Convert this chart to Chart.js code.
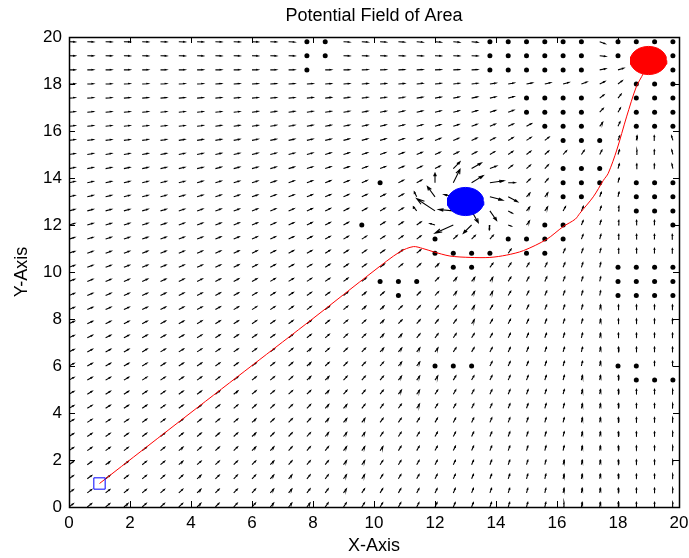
<!DOCTYPE html>
<html>
<head>
<meta charset="utf-8">
<script src="https://cdn.jsdelivr.net/npm/chart.js@4.4.1/dist/chart.umd.min.js"></script>
<style>
  html, body { margin: 0; padding: 0; background: #fff; }
  #wrap { width: 689px; height: 558px; }
</style>
</head>
<body>
<div id="wrap"><canvas id="fieldChart"></canvas></div>
<script>
// quiver grid (step 0.6 in both directions)
var gridX = [0, 0.6, 1.2, 1.8, 2.4, 3, 3.6, 4.2, 4.8, 5.4, 6, 6.6, 7.2, 7.8, 8.4, 9, 9.6,
             10.2, 10.8, 11.4, 12, 12.6, 13.2, 13.8, 14.4, 15, 15.6, 16.2, 16.8, 17.4, 18, 18.6, 19.2, 19.8];
var gridY = gridX.slice();
var axisTicks = [0, 2, 4, 6, 8, 10, 12, 14, 16, 18, 20];
var chartTitle = 'Potential Field of Area';

var goal = [19, 19];        // red blob, arrows point at it
var obstacle = [13, 13];    // blue blob
var blobRadius = 0.6;
var startPoint = [1, 1];
var arrowLen = 0.2;

// robot path (red line)
var pathX = [1, 4, 6, 8, 10, 10.85, 11.29, 11.6, 11.95, 12.49, 13.15, 13.8, 14.35, 14.9, 15.66, 16.2,
             16.6, 16.75, 17.19, 17.52, 17.68, 17.96, 18.28, 18.6, 18.83, 19];
var pathY = [1, 4.02, 6.02, 8.02, 10.05, 10.86, 11.08, 11.0, 10.86, 10.68, 10.62, 10.62, 10.72, 10.91, 11.39, 11.93,
             12.25, 12.5, 13.2, 13.9, 14.2, 15.19, 16.6, 17.88, 18.45, 19];

// grid points that show as a dot
var dotX = [7.8, 8.4, 13.8, 14.4, 15, 15.6, 16.2, 16.8, 18, 18.6, 19.2, 19.8,
            7.8, 8.4, 13.8, 14.4, 15, 15.6, 16.2, 16.8, 18, 19.8,
            7.8, 13.8, 14.4, 15, 15.6, 16.2, 16.8, 19.8,
            18.6, 19.2, 19.8,
            15, 15.6, 16.2, 16.8, 18.6, 19.2, 19.8,
            15, 15.6, 16.2, 16.8, 18.6, 19.2, 19.8,
            15.6, 16.2, 16.8, 18.6, 19.2, 19.8,
            16.2, 16.8, 17.4,
            16.2, 16.8, 17.4,
            10.2, 16.2, 16.8, 17.4, 18.6, 19.2, 19.8,
            16.2, 16.8, 18.6, 19.2, 19.8,
            18.6, 19.2, 19.8,
            9.6, 15.6, 16.2, 19.8,
            12, 14.4, 15, 15.6, 16.2,
            12, 12.6, 13.2, 13.8, 15, 15.6,
            12.6, 13.2, 18, 18.6, 19.2, 19.8,
            10.2, 10.8, 11.4, 18, 18.6, 19.2, 19.8,
            10.8, 18, 18.6, 19.2, 19.8,
            12, 12.6, 13.2, 18, 18.6,
            18.6, 19.2, 19.8];
var dotY = [19.8, 19.8, 19.8, 19.8, 19.8, 19.8, 19.8, 19.8, 19.8, 19.8, 19.8, 19.8,
            19.2, 19.2, 19.2, 19.2, 19.2, 19.2, 19.2, 19.2, 19.2, 19.2,
            18.6, 18.6, 18.6, 18.6, 18.6, 18.6, 18.6, 18.6,
            18, 18, 18,
            17.4, 17.4, 17.4, 17.4, 17.4, 17.4, 17.4,
            16.8, 16.8, 16.8, 16.8, 16.8, 16.8, 16.8,
            16.2, 16.2, 16.2, 16.2, 16.2, 16.2,
            15.6, 15.6, 15.6,
            14.4, 14.4, 14.4,
            13.8, 13.8, 13.8, 13.8, 13.8, 13.8, 13.8,
            13.2, 13.2, 13.2, 13.2, 13.2,
            12.6, 12.6, 12.6,
            12, 12, 12, 12,
            11.4, 11.4, 11.4, 11.4, 11.4,
            10.8, 10.8, 10.8, 10.8, 10.8, 10.8,
            10.2, 10.2, 10.2, 10.2, 10.2, 10.2,
            9.6, 9.6, 9.6, 9.6, 9.6, 9.6, 9.6,
            9, 9, 9, 9, 9,
            6, 6, 6, 6, 6,
            5.4, 5.4, 5.4];

// long arrows around the obstacle (start x, y and vector u, v)
var nearX = [12.6, 12.6, 13.2, 13.2, 13.8, 13.8, 13.8, 14.4, 14.4, 13.8, 13.2, 13.2, 12.6, 12.6, 12.0, 12.0, 12.0, 12.6, 13.8, 14.4, 11.4, 11.4, 12.0, 14.4, 13.2];
var nearY = [13.8, 14.4, 13.8, 14.4, 13.8, 14.4, 13.2, 13.2, 13.8, 12.6, 12.6, 12.0, 12.0, 12.6, 12.6, 13.2, 13.8, 13.2, 12.0, 12.6, 13.2, 12.6, 12.0, 12.0, 13.2];
var nearU = [0.22, 0.22, 0.38, 0.32, 0.46, 0.22, 0.42, 0.31, 0.22, 0.22, 0.22, -0.27, -0.60, -0.48, -0.60, -0.25, 0.0, -0.3, -0.02, 0.14, -0.08, -0.11, -0.16, 0.10, 0.2];
var nearV = [0.57, 0.29, 0.30, 0.24, 0.085, 0.11, -0.14, -0.21, 0.0, -0.41, -0.50, -0.35, -0.35, 0.06, 0.52, 0.44, 0.41, 0.1, -0.21, -0.10, 0.21, 0.18, 0.06, -0.05, 0.1];

function key(x, y) { return x.toFixed(1) + ',' + y.toFixed(1); }

var dotSet = {};
dotX.forEach(function (x, i) { dotSet[key(x, dotY[i])] = true; });
var nearSet = {};
nearX.forEach(function (x, i) { nearSet[key(x, nearY[i])] = i; });

// build the quiver as one broken line (null breaks the strokes)
var quiver = [];
function addArrow(x, y, u, v) {
  var tx = x + u, ty = y + v;
  var a = 0.33, b = 0.33;
  quiver.push({ x: x, y: y }, { x: tx, y: ty }, { x: null, y: null });
  quiver.push({ x: tx - a * (u + b * v), y: ty - a * (v - b * u) },
              { x: tx, y: ty },
              { x: tx - a * (u - b * v), y: ty - a * (v + b * u) },
              { x: null, y: null });
}

gridX.forEach(function (x) {
  gridY.forEach(function (y) {
    var k = key(x, y);
    if (dotSet[k]) return;
    if (nearSet[k] !== undefined) {
      var n = nearSet[k];
      addArrow(x, y, nearU[n], nearV[n]);
      return;
    }
    var dx = goal[0] - x, dy = goal[1] - y;
    var d = Math.sqrt(dx * dx + dy * dy) || 1;
    addArrow(x, y, arrowLen * dx / d, arrowLen * dy / d);
  });
});

var dots = dotX.map(function (x, i) { return { x: x, y: dotY[i] }; });
var path = pathX.map(function (x, i) { return { x: x, y: pathY[i] }; });

function blob(c) {
  var pts = [];
  for (var k = 0; k <= 24; k++) {
    var t = k / 24 * Math.PI * 2;
    pts.push({ x: c[0] + blobRadius * Math.cos(t), y: c[1] + blobRadius * Math.sin(t) });
  }
  return pts;
}

var fontFam = "'Liberation Sans', Arial, Helvetica, sans-serif";

// MATLAB style box with ticks pointing inward, title centred over the axes
var boxPlugin = {
  id: 'matlabBox',
  afterDatasetsDraw: function (chart) {
    var ctx = chart.ctx, a = chart.chartArea;
    var sx = chart.scales.x, sy = chart.scales.y;
    ctx.save();
    ctx.strokeStyle = '#000';
    ctx.lineWidth = 1;
    ctx.beginPath();
    sx.ticks.forEach(function (t) {
      var p = Math.round(sx.getPixelForValue(t.value)) + 0.5;
      ctx.moveTo(p, a.bottom); ctx.lineTo(p, a.bottom - 6);
      ctx.moveTo(p, a.top); ctx.lineTo(p, a.top + 6);
    });
    sy.ticks.forEach(function (t) {
      var p = Math.round(sy.getPixelForValue(t.value)) + 0.5;
      ctx.moveTo(a.left, p); ctx.lineTo(a.left + 6, p);
      ctx.moveTo(a.right, p); ctx.lineTo(a.right - 6, p);
    });
    ctx.stroke();
    ctx.lineWidth = 1.5;
    ctx.strokeRect(Math.round(a.left) + 0.5, Math.round(a.top) + 0.5,
                   Math.round(a.right - a.left), Math.round(a.bottom - a.top));

    ctx.fillStyle = '#000';
    ctx.font = '18px ' + fontFam;
    ctx.textAlign = 'center';
    ctx.textBaseline = 'middle';
    ctx.fillText(chartTitle, (a.left + a.right) / 2, 16);
    ctx.restore();
  }
};

var ctx = document.getElementById('fieldChart').getContext('2d');
var fieldChart = new Chart(ctx, {
  type: 'scatter',
  data: {
    datasets: [
      {
        label: 'goal', type: 'line', data: blob(goal), order: 0,
        borderColor: '#ff0000', backgroundColor: '#ff0000', borderWidth: 1,
        pointRadius: 0, fill: 'shape', tension: 0
      },
      {
        label: 'obstacle', type: 'line', data: blob(obstacle), order: 0,
        borderColor: '#0000ff', backgroundColor: '#0000ff', borderWidth: 1,
        pointRadius: 0, fill: 'shape', tension: 0
      },
      {
        label: 'start', data: [{ x: startPoint[0], y: startPoint[1] }], order: 1,
        pointStyle: 'rect', pointRadius: 8, borderColor: '#0000ff',
        backgroundColor: 'rgba(0,0,0,0)', borderWidth: 1
      },
      {
        label: 'path', type: 'line', data: path, order: 2,
        borderColor: '#ff0000', borderWidth: 1, pointRadius: 0, fill: false, tension: 0.3
      },
      {
        label: 'dots', data: dots, order: 3,
        pointRadius: 2.5, backgroundColor: '#000', borderColor: '#000', borderWidth: 0
      },
      {
        label: 'field', type: 'line', data: quiver, order: 4,
        borderColor: '#000', borderWidth: 1.1, pointRadius: 0, fill: false,
        spanGaps: false, tension: 0
      }
    ]
  },
  options: {
    responsive: true,
    maintainAspectRatio: false,
    animation: false,
    layout: { padding: { left: 0, right: 10, top: 37, bottom: 0 } },
    plugins: {
      legend: { display: false },
      tooltip: { enabled: false },
      title: { display: false }
    },
    scales: {
      x: {
        type: 'linear', min: 0, max: 20,
        afterBuildTicks: function (s) { s.ticks = axisTicks.map(function (v) { return { value: v }; }); },
        grid: { display: false, drawTicks: false },
        border: { display: false },
        ticks: { color: '#000', padding: 6, maxRotation: 0, autoSkip: false,
                 font: { family: fontFam, size: 17 } },
        title: { display: true, text: 'X-Axis', color: '#000',
                 font: { family: fontFam, size: 18 }, padding: { top: 0, bottom: 1.5 } },
        afterFit: function (s) { s.height = 51; s.paddingRight = 0; s.paddingLeft = 0; }
      },
      y: {
        type: 'linear', min: 0, max: 20,
        afterBuildTicks: function (s) { s.ticks = axisTicks.map(function (v) { return { value: v }; }); },
        grid: { display: false, drawTicks: false },
        border: { display: false },
        ticks: { color: '#000', padding: 7, autoSkip: false,
                 font: { family: fontFam, size: 17 } },
        title: { display: true, text: 'Y-Axis', color: '#000',
                 font: { family: fontFam, size: 18 }, padding: { top: 11.5, bottom: 0 } },
        afterFit: function (s) { s.width = 69; s.paddingTop = 0; s.paddingBottom = 0; }
      }
    }
  },
  plugins: [boxPlugin]
});
</script>
</body>
</html>
